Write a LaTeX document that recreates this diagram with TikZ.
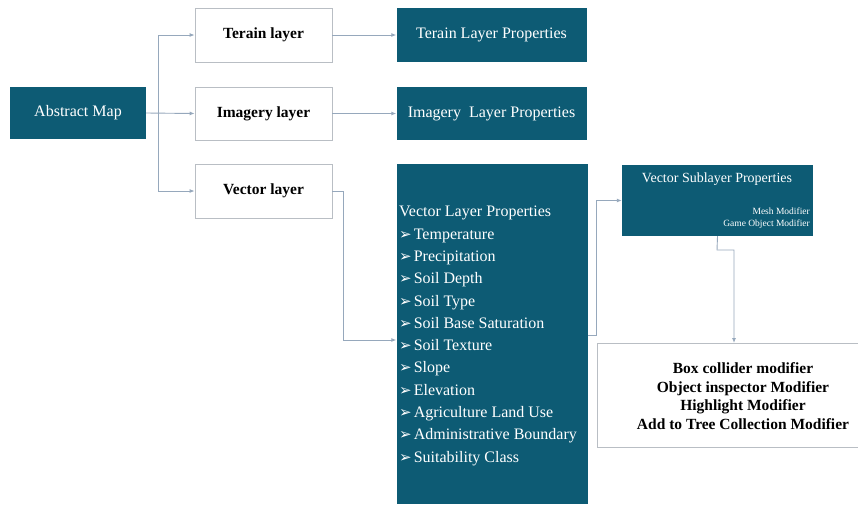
\documentclass[tikz,border=0pt]{standalone}
\usepackage{fontspec}
\setmainfont{Liberation Serif}
\newfontfamily\symfont{DejaVu Sans}
\usetikzlibrary{arrows.meta}
\definecolor{teal}{RGB}{13,91,116}
\definecolor{conn}{RGB}{150,168,188}
\definecolor{wbord}{RGB}{185,190,196}
\newcommand{\bul}{{\symfont\fontsize{15}{15}\selectfont ➢}\hspace{2pt}}
\begin{document}
\begin{tikzpicture}[x=1pt,y=-1pt,
  tealbox/.style={draw=none,fill=teal,text=white,inner sep=0pt,font=\fontsize{16}{19}\selectfont},
  whitebox/.style={draw=wbord,line width=0.8pt,fill=white,inner sep=0pt,font=\bfseries\fontsize{15.5}{18.5}\selectfont,align=center},
  arr/.style={draw=conn,line width=0.9pt,-{Latex[length=5pt,width=4pt]}},
  ln/.style={draw=conn,line width=0.9pt}]
\useasboundingbox (0,0) rectangle (858,504);
% boxes
\node[tealbox,minimum width=136pt,minimum height=52pt] (am) at (78,113) {Abstract Map};
\node[whitebox,minimum width=137pt,minimum height=54pt] (tl) at (263.5,35) {Terain layer};
\node[whitebox,minimum width=137pt,minimum height=53pt] (il) at (263.5,113.5) {Imagery layer};
\node[whitebox,minimum width=137pt,minimum height=54pt] (vl) at (263.5,191) {Vector layer};
\node[tealbox,minimum width=190pt,minimum height=54pt] (tlp) at (491.5,35) {Terain Layer Properties};
\node[tealbox,minimum width=190pt,minimum height=53pt] (ilp) at (491.5,113.5) {Imagery\ \ Layer Properties};
\node[tealbox,minimum width=191pt,minimum height=340pt] (vlp) at (492,334) {};
\node[text=white,anchor=north west,inner sep=0pt,align=left,font=\fontsize{16}{22.3}\selectfont] (vlpt) at (399,206)
 {Vector Layer Properties\\
  \bul Temperature\\
  \bul Precipitation\\
  \bul Soil Depth\\
  \bul Soil Type\\
  \bul Soil Base Saturation\\
  \bul Soil Texture\\
  \bul Slope\\
  \bul Elevation\\
  \bul Agriculture Land Use\\
  \bul Administrative Boundary\\
  \bul Suitability Class};
\node[tealbox,minimum width=191pt,minimum height=71pt] (vsp) at (717.5,200.5) {};
\node[text=white,inner sep=0pt,font=\fontsize{14}{16}\selectfont] (vspt) at (717,179) {Vector Sublayer Properties};
\node[text=white,anchor=east,inner sep=0pt,align=right,font=\fontsize{9.5}{12}\selectfont] (vspm) at (810,218) {Mesh Modifier\\Game Object Modifier};
\node[whitebox,minimum width=261pt,minimum height=104pt,anchor=north west] (bb) at (597,343) {};
\node[inner sep=0pt,align=center,font=\bfseries\fontsize{15.5}{18.5}\selectfont] (bbt) at (743,396)
 {Box collider modifier\\Object inspector Modifier\\Highlight Modifier\\Add to Tree Collection Modifier};
% connectors
\coordinate (j) at (158,113);
\draw[arr] (j) |- (tl.west);
\draw[arr] (am.east) -- (il.west);
\draw[arr] (j) |- (vl.west);
\draw[arr] (tl.east) -- (tlp.west);
\draw[arr] (il.east) -- (ilp.west);
\coordinate (vk) at (343,191);
\coordinate (vin) at (vlp.west |- 0,340);
\draw[arr] (vl.east) -- (vk) |- (vin);
\coordinate (pout) at (vlp.east |- 0,335);
\coordinate (pk) at (596,335);
\draw[arr] (pout) -- (pk) |- (vsp.west);
\coordinate (s1) at (717,250);
\coordinate (s2) at (734,250);
\draw[arr] (vsp.south) -- (s1) -- (s2) -- (s2 |- bb.north);
\end{tikzpicture}
\end{document}
